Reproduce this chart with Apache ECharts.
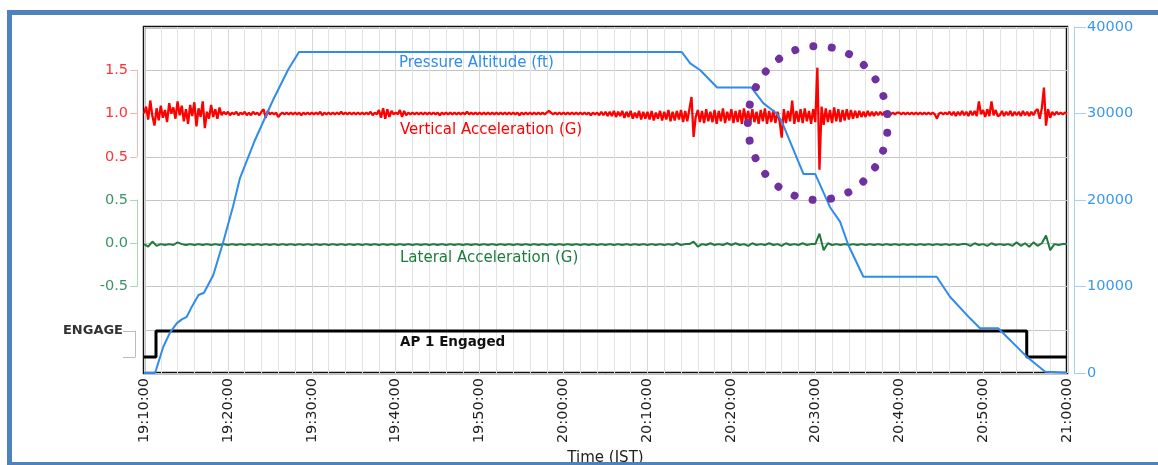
<!DOCTYPE html>
<html><head><meta charset="utf-8">
<script src="https://cdn.jsdelivr.net/npm/echarts@6/dist/echarts.min.js"></script>
<style>html,body{margin:0;padding:0;background:#fff}#c{width:1158px;height:465px}</style>
</head><body><div id="c"></div>
<script>
// ---- data (time in minutes after 19:10:00 JST) ----
const xTickLabels = ['19:10:00','19:20:00','19:30:00','19:40:00','19:50:00','20:00:00','20:10:00','20:20:00','20:30:00','20:40:00','20:50:00','21:00:00'];

const altitudeFt = [[0,0],[1.3,0],[1.43,350],[2.3,3040],[3.1,4660],[3.9,5740],[4.5,6200],[5.1,6500],[5.7,7670],[6.5,9020],[7.15,9280],[8.26,11330],[9.45,15180],[10.6,19230],[11.44,22540],[13.23,26940],[15.38,31560],[17.16,35030],[18.47,37100],
  [64.1,37100],[65.1,35800],[66.3,35000],[68.3,33000],[72.4,33000],[73.8,31200],[75.4,30000],[76.0,29100],[78.6,23000],[80.0,23000],[81.8,19100],[82.95,17500],[83.94,14800],[85.73,11130],[94.47,11130],[96.05,8820],[98.44,6320],[99.63,5170],[101.8,5170],[105.2,1890],[107.4,150],[110,40]];

const verticalStepMin = 0.25; // one reading every 15 s
const verticalAccelG = [
1.00,1.08,0.93,1.15,0.97,0.86,1.06,0.92, 1.09,0.95,1.04,0.90,1.12,1.00,1.07,0.94,
1.14,0.98,1.09,0.91,1.05,0.88,1.10,0.97, 1.13,0.85,1.06,0.96,1.14,0.83,1.02,0.94,
1.10,0.96,1.05,0.94,1.07,0.98,1.02,0.99, 1.02,0.98,1.01,0.99,1.02,0.98,1.01,0.99,
1.02,0.98,1.01,0.98,1.02,0.99,1.01,0.98, 1.02,1.05,0.95,1.03,0.99,1.01,0.99,1.01,
0.96,0.99,1.01,0.99,1.01,0.99,1.01,0.99, 1.01,0.99,1.01,0.98,1.01,0.99,1.01,0.99,
1.01,0.99,1.01,0.99,1.02,0.98,1.01,0.99, 1.01,0.99,1.01,0.99,1.01,0.99,1.02,0.99,
1.01,0.99,1.01,0.99,1.01,0.99,1.01,0.99, 1.01,0.99,1.01,0.99,1.02,0.98,1.01,0.99,
1.04,0.95,1.06,0.94,1.05,0.96,1.03,0.99, 1.01,0.99,1.04,0.96,1.03,0.98,1.01,0.99,
1.01,0.99,1.01,0.99,1.01,0.99,1.01,0.99, 1.01,0.99,1.01,0.99,1.01,0.98,1.01,0.99,
1.01,0.99,1.01,0.99,1.01,0.99,1.01,0.99, 1.01,0.99,1.02,0.99,1.01,0.99,1.01,0.99,
1.01,0.99,1.01,0.99,1.01,0.99,1.01,0.99, 1.01,0.99,1.01,0.99,1.01,0.99,1.01,0.99,
1.01,0.99,1.01,0.98,1.01,0.99,1.01,0.99, 1.01,0.99,1.01,0.99,1.01,0.99,1.01,0.99,
1.01,1.03,1.01,0.99,1.01,0.99,1.01,0.99, 1.01,0.99,1.01,0.99,1.01,0.99,1.01,0.99,
1.01,0.99,1.01,0.99,1.01,0.98,1.01,0.99, 1.01,0.98,1.02,0.98,1.02,0.97,1.02,0.97,
1.03,0.96,1.02,0.97,1.03,0.95,1.02,0.96, 1.03,0.94,1.01,0.95,1.03,0.93,1.02,0.94,
1.02,0.93,1.03,0.92,1.01,0.94,1.03,0.92, 1.02,0.93,1.04,0.91,1.02,0.92,1.03,0.93,
1.04,0.90,1.03,0.91,1.05,1.19,0.73,0.96, 1.04,0.90,1.03,0.89,1.05,0.91,1.02,0.90,
1.04,0.88,1.03,0.91,1.06,0.89,1.02,0.92, 1.05,0.89,1.03,0.90,1.04,0.88,1.06,0.91,
1.03,0.89,1.05,0.90,1.02,0.88,1.04,0.91, 1.06,0.88,1.03,0.90,1.04,0.89,1.02,0.91,
0.72,1.05,0.89,1.03,0.91,1.15,0.88,1.03, 0.90,1.05,0.89,1.06,0.91,1.03,0.88,1.05,
0.90,1.53,0.35,1.08,0.87,1.06,0.90,1.04, 0.89,1.07,0.91,1.05,0.90,1.04,0.92,1.05,
0.93,1.04,0.94,1.03,0.95,1.03,0.96,1.02, 0.96,1.03,0.97,1.02,0.97,1.02,0.98,1.02,
0.98,1.02,0.99,1.01,0.99,1.01,0.99,1.01, 1.01,0.99,1.01,0.99,1.01,0.99,1.01,0.99,
1.01,0.99,1.01,0.99,1.01,0.99,1.01,0.99, 1.01,0.99,0.94,1.00,1.01,0.99,1.01,0.99,
1.02,0.98,1.02,0.97,1.02,0.98,1.03,0.98, 1.02,0.97,1.03,0.98,1.03,0.97,1.14,0.99,
1.04,0.96,1.05,0.97,1.14,0.98,1.04,0.97, 0.98,1.03,0.97,1.02,0.98,1.03,0.97,1.02,
0.98,1.02,0.97,1.03,0.98,1.02,0.97,1.02, 0.98,1.03,1.05,0.94,1.06,1.30,0.86,1.05,
0.95,1.02,0.98,1.02,0.99,1.01,0.99,1.01, 1.00];

const lateralStepMin = 0.5; // one reading every 30 s
const lateralAccelG = [
-0.01,-0.04,0.02,-0.03,-0.01,-0.02,-0.01,-0.02,0.01,-0.01,
-0.02,-0.01,-0.02,-0.01,-0.02,-0.01,-0.02,-0.01,-0.02,-0.01,
-0.02,-0.01,-0.02,-0.01,-0.02,-0.01,-0.02,-0.01,-0.02,-0.01,
-0.02,-0.01,-0.02,-0.01,-0.02,-0.01,-0.02,-0.01,-0.02,-0.01,
-0.02,-0.01,-0.02,-0.01,-0.02,-0.01,-0.02,-0.01,-0.02,-0.01,
-0.02,-0.01,-0.02,-0.01,-0.02,-0.01,-0.02,-0.01,-0.02,-0.01,
-0.02,-0.01,-0.02,-0.01,-0.02,-0.01,-0.02,-0.01,-0.02,-0.01,
-0.02,-0.01,-0.02,-0.01,-0.02,-0.01,-0.02,-0.01,-0.02,-0.01,
-0.02,-0.01,-0.02,-0.01,-0.02,-0.01,-0.02,-0.01,-0.02,-0.01,
-0.02,-0.01,-0.02,-0.01,-0.02,-0.01,-0.02,-0.01,-0.02,-0.01,
-0.02,-0.01,-0.02,-0.01,-0.02,-0.01,-0.02,-0.01,-0.02,-0.01,
-0.02,-0.01,-0.02,-0.01,-0.02,-0.01,-0.02,-0.01,-0.02,-0.01,
-0.02,-0.01,-0.02,-0.01,-0.02,-0.01,-0.02,0.00,-0.02,-0.01,
-0.01,0.02,-0.04,-0.01,-0.02,0.00,-0.02,-0.01,-0.02,0.00,
-0.02,0.00,-0.02,-0.01,-0.03,0.00,-0.02,-0.01,-0.02,0.00,
-0.02,-0.01,-0.03,0.00,-0.02,-0.01,-0.02,0.00,-0.02,-0.01,
-0.01,0.11,-0.08,0.00,-0.02,-0.01,-0.02,-0.01,-0.02,-0.01,
-0.02,-0.01,-0.02,-0.01,-0.02,-0.01,-0.02,-0.01,-0.02,-0.01,
-0.02,-0.01,-0.02,-0.01,-0.02,-0.01,-0.02,-0.01,-0.02,-0.01,
-0.02,-0.01,-0.02,-0.01,-0.02,-0.01,-0.01,-0.03,0.00,-0.02,
-0.01,-0.03,0.00,-0.02,-0.01,-0.02,-0.01,-0.03,0.01,-0.03,
0.00,-0.04,0.01,-0.03,0.00,0.09,-0.08,-0.01,-0.02,-0.01,
-0.01];

const apEngaged = [[0,0],[1.43,1],[105.2,0],[110,0]]; // step at each change

const seriesLabels = ['Pressure Altitude (ft)','Vertical Acceleration (G)','Lateral Acceleration (G)','AP 1 Engaged'];
const circleCenter = [80.3, 28900]; // [minutes, ft] centre of the highlighted event

// ---- build ----
const vertPairs = verticalAccelG.map((v,i)=>[i*verticalStepMin, v]);
const latPairs = lateralAccelG.map((v,i)=>[i*lateralStepMin, v]);
const FONT = 'DejaVu Sans';
const L = 144, T = 27, W = 923, H = 346;

const chart = echarts.init(document.getElementById('c'));
const hiddenX = gi => ({gridIndex:gi, type:'value', min:0, max:110, show:false});
const gridBase = {left:L, width:W, outerBoundsMode:'none', containLabel:false};
const option = {
  animation:false,
  backgroundColor:'#fff',
  grid:[
    Object.assign({top:T, height:H, show:true, borderColor:'#111', borderWidth:2.5, backgroundColor:'#fff'}, gridBase),
    Object.assign({top:T+43.25, height:86.5}, gridBase),
    Object.assign({top:T+173, height:86.5}, gridBase),
    Object.assign({top:331, height:26}, gridBase)
  ],
  xAxis:[
    {gridIndex:0, type:'value', min:0, max:110, interval:10,
     axisLine:{show:false}, axisTick:{show:false},
     axisLabel:{rotate:90, margin:5, color:'#222', fontSize:14.5, fontFamily:FONT,
       formatter:v=>xTickLabels[Math.round(v/10)]},
     splitLine:{show:true, lineStyle:{color:'#d8d8d8', width:1}},
     minorTick:{show:false, splitNumber:5},
     minorSplitLine:{show:true, lineStyle:{color:'#e3e3e3', width:1}},
     name:'Time (JST)', nameLocation:'middle', nameGap:76,
     nameTextStyle:{color:'#222', fontSize:15, fontFamily:FONT}},
    hiddenX(1), hiddenX(2), hiddenX(3)
  ],
  yAxis:[
    {gridIndex:0, type:'value', position:'right', min:0, max:40000, interval:10000, offset:7,
     axisLine:{show:true, onZero:false, lineStyle:{color:'#a9cff5', width:1}},
     axisTick:{show:true, length:12, lineStyle:{color:'#a9cff5'}},
     axisLabel:{color:'#3a98ee', margin:13, fontSize:14.5, fontFamily:FONT, formatter:v=>String(v)},
     splitLine:{show:false}},
    {gridIndex:0, type:'value', position:'left', min:-2, max:2, interval:0.5,
     axisLine:{show:false, onZero:false}, axisTick:{show:false}, axisLabel:{show:false},
     splitLine:{show:true, lineStyle:{color:'#c4c4c4', width:1}}},
    {gridIndex:0, type:'value', position:'left', min:-1.5, max:2.5, show:false, axisLine:{show:false}, splitLine:{show:false}},
    {gridIndex:0, type:'value', position:'left', min:-0.6154, max:12.692, show:false, axisLine:{show:false}, splitLine:{show:false}},
    {gridIndex:1, type:'value', position:'left', min:0.5, max:1.5, interval:0.5, offset:7,
     axisLine:{show:true, onZero:false, lineStyle:{color:'#ffb3b3'}},
     axisTick:{show:true, length:7, lineStyle:{color:'#ffb3b3'}},
     axisLabel:{color:'#ff3333', margin:9, fontSize:14.5, fontFamily:FONT, formatter:v=>v.toFixed(1)},
     splitLine:{show:false}},
    {gridIndex:2, type:'value', position:'left', min:-0.5, max:0.5, interval:0.5, offset:7,
     axisLine:{show:true, onZero:false, lineStyle:{color:'#a8d8b8'}},
     axisTick:{show:true, length:7, lineStyle:{color:'#a8d8b8'}},
     axisLabel:{color:'#3a9462', margin:9, fontSize:14.5, fontFamily:FONT, formatter:v=>v.toFixed(1)},
     splitLine:{show:false}},
    {gridIndex:3, type:'value', position:'left', min:0, max:1, interval:1, offset:9,
     axisLine:{show:true, onZero:false, lineStyle:{color:'#bbbbbb'}},
     axisTick:{show:true, length:12, lineStyle:{color:'#bbbbbb'}},
     axisLabel:{color:'#333', margin:12, fontSize:13, fontWeight:'bold', fontFamily:FONT,
       formatter:v=>v===1?'ENGAGE':''},
     splitLine:{show:false}}
  ],
  series:[
    {type:'line', xAxisIndex:0, yAxisIndex:3, data:apEngaged, step:'end', symbol:'none', showSymbol:false, clip:false,
     lineStyle:{color:'#000', width:3}, z:3},
    {type:'line', xAxisIndex:0, yAxisIndex:2, data:latPairs, symbol:'none', showSymbol:false, clip:false,
     lineStyle:{color:'#1e7b3c', width:2}, z:4},
    {type:'line', xAxisIndex:0, yAxisIndex:1, data:vertPairs, symbol:'none', showSymbol:false, clip:false,
     lineStyle:{color:'#ff0000', width:2.3}, z:5},
    {type:'line', xAxisIndex:0, yAxisIndex:0, data:altitudeFt, symbol:'none', showSymbol:false, clip:false,
     lineStyle:{color:'#2f8cec', width:2}, z:6}
  ]
};
chart.setOption(option);

const cc = chart.convertToPixel({xAxisIndex:0, yAxisIndex:0}, circleCenter);
chart.setOption({graphic:[
  {type:'rect', shape:{x:9.5, y:12.5, width:1200, height:452}, style:{fill:null, stroke:'#4f81bd', lineWidth:5}, z:100, silent:true},
  {type:'text', left:399, top:56, style:{text:seriesLabels[0], fill:'#2f8cec', font:'15px "DejaVu Sans"'}, z:100},
  {type:'text', left:400, top:123, style:{text:seriesLabels[1], fill:'#ff0000', font:'15px "DejaVu Sans"'}, z:100},
  {type:'text', left:400, top:251, style:{text:seriesLabels[2], fill:'#1e7b3c', font:'15px "DejaVu Sans"'}, z:100},
  {type:'text', left:400, top:335, style:{text:seriesLabels[3], fill:'#111', font:'bold 13.5px "DejaVu Sans"'}, z:100},
  {type:'ellipse', shape:{cx:cc[0], cy:cc[1], rx:70, ry:77},
   style:{fill:null, stroke:'#7030a0', lineWidth:8, lineCap:'round', lineDash:[0.01,18.48]}, z:110, silent:true}
]});
</script></body></html>
